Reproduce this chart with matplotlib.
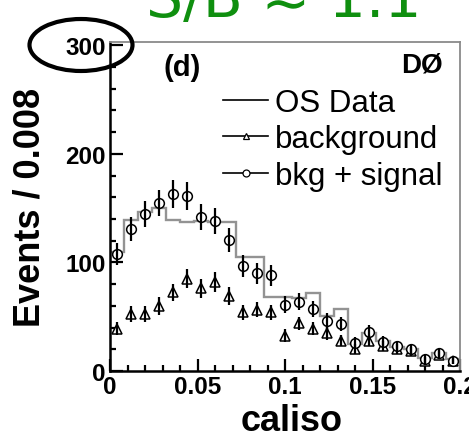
import matplotlib
matplotlib.use('Agg')
import matplotlib.pyplot as plt
import numpy as np
from matplotlib.lines import Line2D
from matplotlib.patches import Ellipse

plt.rcParams['font.family'] = ['Liberation Sans', 'DejaVu Sans']

# ---- data ----
bin_width = 0.008
n_bins = 25
os_data = [110, 139, 146, 150, 139.5, 137.5, 138.5, 137.5, 137, 105, 105, 68, 68, 67,
           72, 51, 57, 25, 35, 28, 22, 20, 12, 17, 11]
background = [39, 52.5, 52.5, 60, 72.5, 85, 76, 82, 69, 54, 56.5, 54, 32.5, 44,
              39, 35, 28, 20, 28, 23, 20, 18, 9.5, 15, 9.5]
background_err = [6, 7, 7, 8, 8, 9, 9, 9, 8, 7, 7, 7, 6, 6, 6, 6, 5, 4.5, 5, 4.5,
                  4.5, 4, 3, 4, 3]
bkg_signal = [108, 131, 145, 155, 163, 161, 142, 138.5, 121, 96.5, 90, 88, 61, 64,
              57, 46, 43, 26, 36, 27, 23, 20, 11, 16.5, 9.5]
bkg_signal_err = [10, 11, 12, 12, 13, 13, 12, 12, 11, 10, 9.5, 9.5, 8, 8, 7.5, 7,
                  6.5, 5, 6, 5, 5, 4.5, 3.5, 4, 3]
x_ticks = [0, 0.05, 0.1, 0.15, 0.2]
x_tick_labels = ['0', '0.05', '0.1', '0.15', '0.2']
y_ticks = [0, 100, 200, 300]
y_tick_labels = ['0', '100', '200', '300']
legend_labels = ['OS Data', 'background', 'bkg + signal']

edges = np.arange(n_bins + 1) * bin_width
centers = edges[:-1] + bin_width / 2

W, H = 469, 435
fig = plt.figure(figsize=(W / 100, H / 100), dpi=100)
ax = fig.add_axes([110 / W, (H - 372) / H, 350 / W, 329 / H])

ax.stairs(os_data, edges, color='#939393', lw=1.7, baseline=None, zorder=1)

ax.plot(centers, background, linestyle='none', marker='^', ms=7, mfc='white',
        mec='black', mew=1.1, zorder=3)
ax.errorbar(centers, background, yerr=background_err, fmt='none', ecolor='black',
            elinewidth=1.6, capsize=0, zorder=4)
ax.plot(centers, bkg_signal, linestyle='none', marker='o', ms=7, mfc='white',
        mec='black', mew=1.1, zorder=3)
ax.errorbar(centers, bkg_signal, yerr=bkg_signal_err, fmt='none', ecolor='black',
            elinewidth=1.6, capsize=0, zorder=4)

ax.set_xlim(0, 0.2)
ax.set_ylim(0, 303)
ax.set_xticks(x_ticks)
ax.set_xticklabels(x_tick_labels, fontweight='bold')
ax.set_yticks(y_ticks)
ax.set_yticklabels(y_tick_labels, fontweight='bold')
ax.set_xticks(np.arange(0, 0.2001, 0.01), minor=True)
ax.set_yticks(np.arange(0, 301, 20), minor=True)
ax.tick_params(which='major', direction='in', length=9, width=1.6, labelsize=17.5, pad=3)
ax.tick_params(which='minor', direction='in', length=4.5, width=1.6)
ax.tick_params(top=False, right=False, which='both')

for s in ['left', 'bottom']:
    ax.spines[s].set_linewidth(1.8)
    ax.spines[s].set_color('black')
for s in ['top', 'right']:
    ax.spines[s].set_linewidth(1.3)
    ax.spines[s].set_color('#8a8a8a')

ax.set_xlabel('caliso', fontsize=26, fontweight='bold', va='baseline')
ax.xaxis.set_label_coords((292 - 110) / 350, (372 - 431) / 329)
ax.set_ylabel('Events / 0.008', fontsize=26, fontweight='bold')
ax.yaxis.set_label_coords((48 - 110) / 350, 0.5)

handles = [Line2D([], [], color='black', lw=1.2),
           Line2D([], [], color='black', lw=1.2, marker='^', ms=5, mfc='white', mew=0.9),
           Line2D([], [], color='black', lw=1.2, marker='o', ms=5, mfc='white', mew=0.9)]
ax.legend(handles, legend_labels, loc='upper left', bbox_to_anchor=(0.323, 0.86),
          frameon=False, fontsize=22.5, handlelength=1.45, handletextpad=0.22,
          labelspacing=0.2, borderpad=0, borderaxespad=0)

ax.text((182.5 - 110) / 350, (372 - 68) / 329, '(d)', transform=ax.transAxes,
        ha='center', va='center', fontsize=21, fontweight='bold')
ax.text((443 - 110) / 350, (372 - 66) / 329, 'DØ', transform=ax.transAxes,
        ha='right', va='center', fontsize=20, fontweight='bold')

ell = Ellipse((81 / W, 1 - 46 / H), 103 / W, 52 / H, transform=fig.transFigure,
              fill=False, lw=3, ec='black', zorder=10)
fig.patches.append(ell)

fig.text(146 / W, 1 - 17 / H, 'S/B ≈ 1.1', color='#0f8f0f', fontsize=42,
         family='DejaVu Sans', va='baseline', ha='left')

fig.savefig('out.png', dpi=100)
